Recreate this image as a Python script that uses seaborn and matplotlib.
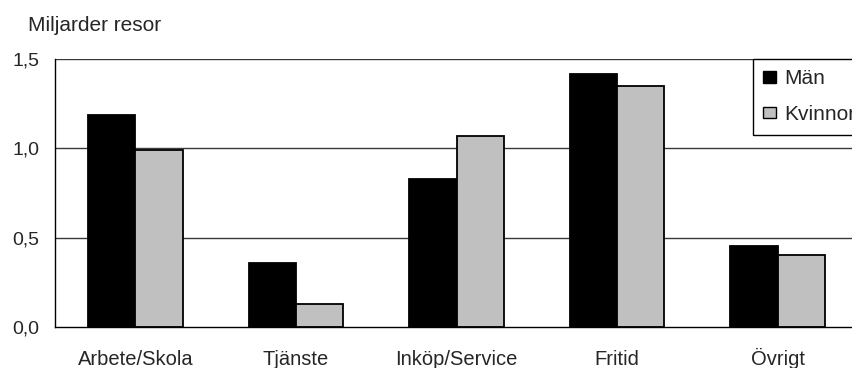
import matplotlib
matplotlib.use("Agg")
import matplotlib.pyplot as plt
import seaborn as sns
import pandas as pd
from matplotlib.patches import Patch

# Trips per purpose, billions, by sex
categories = ["Arbete/Skola", "Tjänste", "Inköp/Service", "Fritid", "Övrigt"]
man = [1.19, 0.36, 0.83, 1.42, 0.45]
kvinnor = [0.99, 0.13, 1.07, 1.35, 0.40]
series = ["Män", "Kvinnor"]
colors = ["#000000", "#C0C0C0"]
y_ticks = [0.0, 0.5, 1.0, 1.5]
y_labels = ["0,0", "0,5", "1,0", "1,5"]

df = pd.DataFrame({
    "kategori": categories * 2,
    "kon": [series[0]] * len(categories) + [series[1]] * len(categories),
    "resor": man + kvinnor,
})

sns.set_theme(style="white")
plt.rcParams["font.family"] = ["Liberation Sans", "DejaVu Sans"]

fig = plt.figure(figsize=(8.52, 3.68), dpi=100)
ax = fig.add_axes([55 / 852, 41.3 / 368, 803 / 852, 267.4 / 368])

sns.barplot(data=df, x="kategori", y="resor", hue="kon", order=categories,
            hue_order=series, palette=colors, width=0.59, saturation=1,
            edgecolor="black", linewidth=1.3, ax=ax, legend=False, zorder=3)

ax.set_xlim(-0.5, len(categories) - 0.5)
ax.set_ylim(0, 1.5)
ax.set_yticks(y_ticks)
ax.set_yticklabels(y_labels)
for y in y_ticks[1:]:
    ax.axhline(y, color="#3a3a3a", lw=1.0, zorder=1)

# category labels centred on a common baseline, tick marks at category boundaries
ax.set_xticks(range(len(categories)))
ax.set_xticklabels(categories)
ax.set_xticks([i - 0.5 for i in range(len(categories) + 1)], minor=True)
ax.tick_params(axis="x", which="major", length=0, pad=27.5, labelsize=14.5)
ax.tick_params(axis="x", which="minor", length=6, width=1, color="black", direction="out")
for lbl in ax.get_xticklabels():
    lbl.set_verticalalignment("baseline")
ax.tick_params(axis="y", which="major", length=6, width=1, color="black",
               direction="out", pad=5, labelsize=14)
ax.set_xlabel("")
ax.set_ylabel("")

for s in ["top", "right"]:
    ax.spines[s].set_visible(False)
for s in ["left", "bottom"]:
    ax.spines[s].set_color("black")
    ax.spines[s].set_linewidth(1.0)
    ax.spines[s].set_zorder(4)

fig.text(28 / 852, 1 - 31 / 368, "Miljarder resor", fontsize=15, va="baseline", ha="left")

handles = [Patch(facecolor=c, edgecolor="black", linewidth=1.0) for c in colors]
leg = fig.legend(handles, series, loc="upper left",
                 bbox_to_anchor=(753 / 852, 1 - 59 / 368), fontsize=15,
                 frameon=True, fancybox=False, shadow=False, framealpha=1,
                 edgecolor="black", borderpad=0.5, handlelength=0.6,
                 handleheight=0.45, handletextpad=0.4, labelspacing=0.8,
                 borderaxespad=0)
leg.get_frame().set_linewidth(1.0)

fig.savefig("out.png", dpi=100)
